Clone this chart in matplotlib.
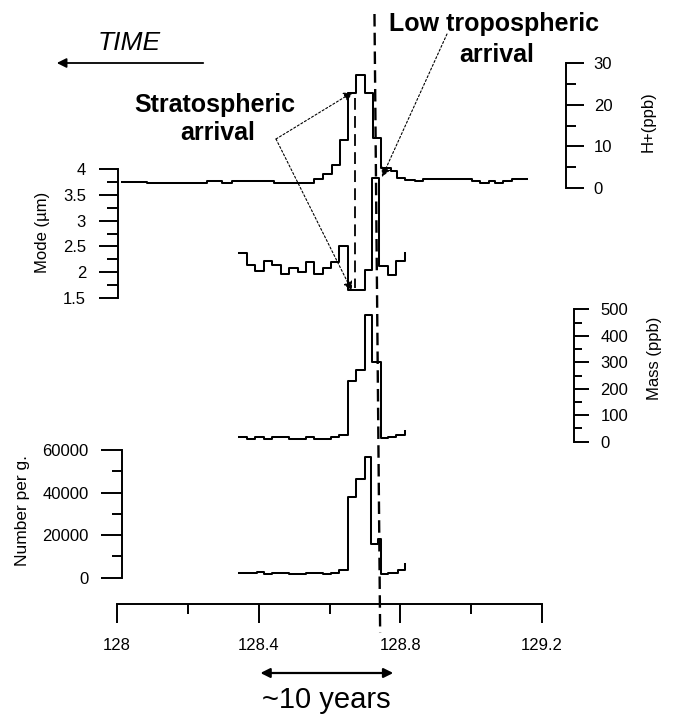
import matplotlib
matplotlib.use("Agg")
import matplotlib.pyplot as plt
import matplotlib.transforms as mtransforms

W, H = 673, 715
plt.rcParams['font.family'] = ['Liberation Sans', 'DejaVu Sans']
plt.rcParams['lines.scale_dashes'] = False

# depth axis (m)
depth_lim = (128.0, 129.2)
depth_major = [128.0, 128.4, 128.8, 129.2]
depth_labels = ['128', '128.4', '128.8', '129.2']
depth_minor = [128.2, 128.6, 129.0]

# H+ (ppb)
hplus_depth = [128.013, 128.084, 128.155, 128.179, 128.231, 128.254, 128.297, 128.325,
               128.443, 128.557, 128.582, 128.606, 128.631, 128.653, 128.675, 128.699,
               128.723, 128.746, 128.774, 128.791, 128.812, 128.840, 128.864, 129.001,
               129.025, 129.049, 129.068, 129.091, 129.115, 129.157]
hplus = [1.5, 1.1, 1.3, 1.1, 1.3, 1.7, 1.3, 1.7, 1.3, 2.1,
         3.4, 5.5, 11.5, 22.7, 27.1, 22.7, 11.9, 4.8, 4.1, 2.3,
         1.9, 1.7, 2.2, 1.7, 1.3, 1.7, 1.3, 1.7, 2.2, 2.2]

# mode of the size distribution (um)
mode_depth = [128.344, 128.368, 128.391, 128.415, 128.439, 128.463, 128.486, 128.510,
              128.533, 128.557, 128.581, 128.604, 128.628, 128.652, 128.675, 128.699,
              128.720, 128.741, 128.765, 128.789, 128.812]
mode = [2.38, 2.14, 2.03, 2.21, 2.14, 1.96, 2.08, 2.01, 2.19, 1.96, 2.08,
        2.19, 2.50, 1.65, 1.65, 2.05, 3.83, 2.12, 1.95, 2.21, 2.38]

# mass (ppb)
mass_depth = [128.344, 128.368, 128.391, 128.415, 128.439, 128.486, 128.533, 128.557,
              128.604, 128.628, 128.652, 128.675, 128.699, 128.720, 128.746, 128.765,
              128.789, 128.812]
mass = [17, 9, 17, 9, 17, 9, 17, 9, 17, 25, 230, 270, 479, 302, 13, 17, 25, 42]

# number per g
number_depth = [128.344, 128.396, 128.415, 128.439, 128.486, 128.533, 128.557, 128.581,
                128.604, 128.628, 128.652, 128.675, 128.699, 128.718, 128.737, 128.746,
                128.765, 128.793, 128.812]
number = [2100, 2800, 1600, 2100, 1600, 2400, 2100, 1600, 2400, 3600,
          38000, 46400, 56900, 15800, 18000, 1600, 2400, 3600, 6300]

# event markers
strat_depth = 128.671
trop_depth = (128.727, 128.743)   # top, bottom (line drawn slightly slanted)
span_years = (128.405, 128.78)    # ~10 years

fig = plt.figure(figsize=(W / 100, H / 100), dpi=100)
PX = mtransforms.Affine2D().scale(1.0 / W, -1.0 / H).translate(0, 1) + fig.transFigure

X0, X1 = 117, 542


def box(top, bottom):
    ax = fig.add_axes([X0 / W, 1 - bottom / H, (X1 - X0) / W, (bottom - top) / H])
    ax.patch.set_visible(False)
    ax.set_xlim(*depth_lim)
    ax.set_xticks([])
    for s in ax.spines.values():
        s.set_visible(False)
    return ax


def yaxis(ax, side, pos_px, major, labels, minor, lmaj, lmin, pad):
    sp = ax.spines[side]
    sp.set_visible(True)
    sp.set_position(('axes', (pos_px - X0) / (X1 - X0)))
    sp.set_linewidth(1.4)
    ax.yaxis.set_ticks_position(side)
    ax.set_yticks(major)
    ax.set_yticklabels(labels, fontsize=12)
    ax.set_yticks(minor, minor=True)
    ax.tick_params(axis='y', which='major', direction='out', length=lmaj, width=1.4, pad=pad)
    ax.tick_params(axis='y', which='minor', direction='out', length=lmin, width=1.4)


# H+ panel
ax_h = box(63, 188)
ax_h.set_ylim(0, 30)
yaxis(ax_h, 'right', 566, [0, 10, 20, 30], ['0', '10', '20', '30'], [5, 15, 25], 13, 7, 7)
ax_h.plot(hplus_depth, hplus, drawstyle='steps-post', color='black', lw=1.45)

# Mode panel
ax_m = box(169, 298)
ax_m.set_ylim(1.5, 4)
yaxis(ax_m, 'left', 118, [1.5, 2, 2.5, 3, 3.5, 4], ['1.5', '2', '2.5', '3', '3.5', '4'],
      [1.75, 2.25, 2.75, 3.25, 3.75], 14, 8, 9)
ax_m.plot(mode_depth, mode, drawstyle='steps-post', color='black', lw=1.45)

# Mass panel
ax_ms = box(309.3, 441.7)
ax_ms.set_ylim(0, 500)
yaxis(ax_ms, 'right', 574, [0, 100, 200, 300, 400, 500],
      ['0', '100', '200', '300', '400', '500'], [50, 150, 250, 350, 450], 11, 6, 8)
ax_ms.plot(mass_depth, mass, drawstyle='steps-post', color='black', lw=1.45)

# Number panel
ax_n = box(450, 577.7)
ax_n.set_ylim(0, 60000)
yaxis(ax_n, 'left', 122, [0, 20000, 40000, 60000], ['0', '20000', '40000', '60000'],
      [10000, 30000, 50000], 15, 7, 9)
ax_n.plot(number_depth, number, drawstyle='steps-post', color='black', lw=1.45)

# depth axis
ax_x = box(603, 604)
ax_x.spines['bottom'].set_visible(True)
ax_x.spines['bottom'].set_linewidth(1.4)
ax_x.set_yticks([])
ax_x.set_xticks(depth_major)
ax_x.set_xticklabels(depth_labels, fontsize=12)
ax_x.set_xticks(depth_minor, minor=True)
ax_x.tick_params(axis='x', which='major', direction='out', length=13.7, width=1.4, pad=11)
ax_x.tick_params(axis='x', which='minor', direction='out', length=7, width=1.4)

# event lines: x in depth, y in pixels
ev = mtransforms.blended_transform_factory(ax_x.transData, PX)
fig.add_artist(plt.Line2D([strat_depth, strat_depth], [98, 288], transform=ev,
                          color='black', lw=1.3, dashes=(8.5, 4.5)))
fig.add_artist(plt.Line2D([trop_depth[0], trop_depth[1]], [14, 633], transform=ev,
                          color='black', lw=1.7, dashes=(9, 4.5)))

# axis titles
fig.text(42, 232, 'Mode (\u00b5m)', transform=PX, rotation=90, ha='center', va='center', fontsize=12)
fig.text(23, 511, 'Number per g.', transform=PX, rotation=90, ha='center', va='center', fontsize=12.5)
fig.text(648, 122, 'H+(ppb)', transform=PX, rotation=90, ha='center', va='center', fontsize=12)
fig.text(654, 358, 'Mass (ppb)', transform=PX, rotation=90, ha='center', va='center', fontsize=12)

# TIME arrow
fig.text(129, 43, 'TIME', transform=PX, ha='center', va='center', fontsize=19, style='italic')
fig.add_artist(matplotlib.patches.FancyArrowPatch((206, 63), (54, 63), transform=PX,
               arrowstyle='-|>', mutation_scale=14, lw=1.3, color='black'))

# annotations
bold = dict(transform=PX, ha='center', va='center', fontsize=18, fontweight='bold')
fig.text(215, 105, 'Stratospheric', **bold)
fig.text(218, 133, 'arrival', **bold)
fig.text(494, 24, 'Low tropospheric', **bold)
fig.text(497, 55, 'arrival', **bold)

for start, tip in [((276, 139), (353, 92)), ((276, 139), (352, 291)), ((447, 34), (382, 177))]:
    fig.add_artist(matplotlib.patches.FancyArrowPatch(start, tip, transform=PX,
                   arrowstyle='-|>', mutation_scale=14, lw=0.8, linestyle=(0, (1.5, 1.5)),
                   color='black', shrinkA=0, shrinkB=0))

# ~10 years
fig.add_artist(matplotlib.patches.FancyArrowPatch((span_years[0], 673), (span_years[1], 673),
               transform=ev, arrowstyle='<|-|>', mutation_scale=14, lw=1.6, color='black',
               shrinkA=0, shrinkB=0))
fig.text(326, 700, '~10 years', transform=PX, ha='center', va='center', fontsize=21)

fig.savefig('out.png', dpi=100)
